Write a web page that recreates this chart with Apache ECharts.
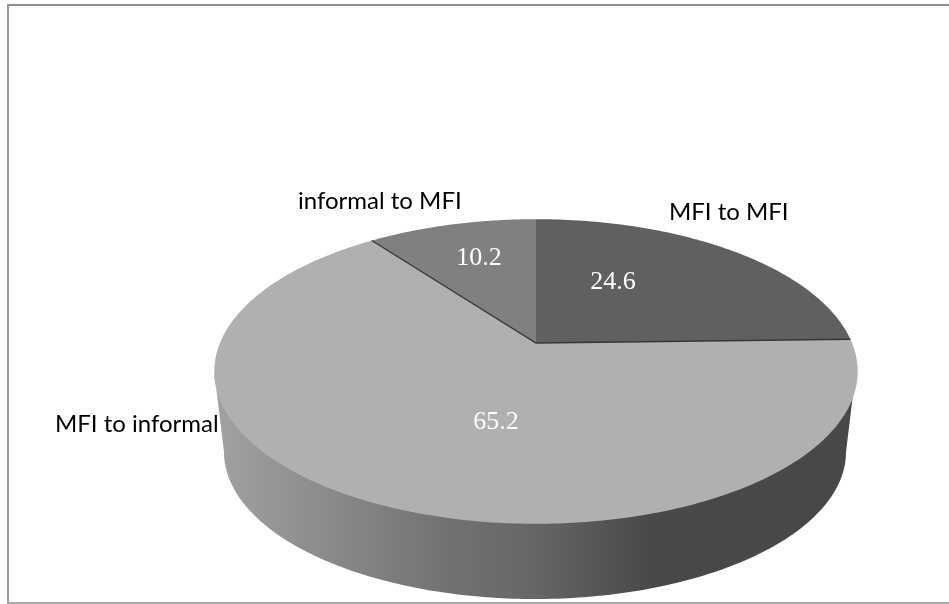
<!DOCTYPE html>
<html>
<head>
<meta charset="utf-8">
<style>html,body{margin:0;padding:0;background:#fff}#chart{width:949px;height:604px}</style>
<script src="https://cdn.jsdelivr.net/npm/echarts@6/dist/echarts.min.js"></script>
</head>
<body>
<div id="chart"></div>
<script>
// Share of loans by source and destination, clockwise from twelve o'clock
const categories = ['MFI to MFI', 'MFI to informal', 'informal to MFI'];
const shares = [24.6, 65.2, 10.2];
const sliceColors = ['#606060', '#b0b0b0', '#808080'];

// Label anchors in page pixels
const nameAnchors = [[669, 212], [55, 424], [298, 201]];
const valueAnchors = [[613, 282], [496, 422], [479, 258]];

// Tilted disc: perspective projection of a unit circle around the hub
const hub = { x: 536, y: 343, a: 316, b: 147, k: 0.187 };
// The wall's upper arc sits just inside the top face so no seam shows
const rimTop = { cx: 535, cy: 369.5, a: 321, b: 152.5 };
const rimBottom = { cx: 535, cy: 452, a: 311, b: 147 };

function project(theta) {
  const w = 1 + hub.k * Math.cos(theta);
  return [hub.x + hub.a * Math.sin(theta) / w, hub.y - hub.b * Math.cos(theta) / w];
}
function frontArc(e) {
  const pts = [];
  for (let d = 0; d <= 180; d++) {
    const t = d * Math.PI / 180;
    pts.push([e.cx + e.a * Math.cos(t), e.cy + e.b * Math.sin(t)]);
  }
  return pts;
}
const total = shares.reduce((s, v) => s + v, 0);
function sliceAngles(i) {
  const before = shares.slice(0, i).reduce((s, v) => s + v, 0);
  return [before / total * 2 * Math.PI, (before + shares[i]) / total * 2 * Math.PI];
}
function slicePoints(i) {
  const [from, to] = sliceAngles(i);
  const pts = [[hub.x, hub.y]];
  const n = Math.ceil((to - from) * 180 / Math.PI);
  for (let j = 0; j <= n; j++) pts.push(project(from + (to - from) * j / n));
  return pts;
}

const chart = echarts.init(document.getElementById('chart'), null, { renderer: 'canvas' });
chart.setOption({
  backgroundColor: '#ffffff',
  animation: false,
  graphic: [
    { type: 'rect', silent: true, shape: { x: 7, y: 4, width: 942, height: 2 }, style: { fill: '#8e8e8e' } },
    { type: 'rect', silent: true, shape: { x: 7, y: 4, width: 2, height: 600 }, style: { fill: '#9a9a9a' } },
    { type: 'rect', silent: true, shape: { x: 7, y: 602, width: 942, height: 2 }, style: { fill: '#a8a8a8' } }
  ],
  series: [
    {
      // Side wall of the disc, shaded from left to right
      type: 'custom', coordinateSystem: 'none', silent: true, data: [0], clip: false,
      renderItem: function () {
        const points = frontArc(rimTop).concat(frontArc(rimBottom).reverse());
        return {
          type: 'polygon',
          shape: { points: points },
          style: {
            fill: new echarts.graphic.LinearGradient(0, 0, 1, 0, [
              { offset: 0, color: '#a2a2a2' },
              { offset: 0.36, color: '#727272' },
              { offset: 0.5, color: '#666666' },
              { offset: 0.68, color: '#494949' },
              { offset: 1, color: '#484848' }
            ])
          }
        };
      }
    },
    {
      // Top face slices, one per category
      type: 'custom', coordinateSystem: 'none', silent: true, clip: false,
      data: shares.map((v, i) => ({ name: categories[i], value: v })),
      renderItem: function (params) {
        return {
          type: 'polygon',
          shape: { points: slicePoints(params.dataIndex) },
          style: { fill: sliceColors[params.dataIndex] }
        };
      }
    },
    {
      // Dark creases along the two edges of the largest slice
      type: 'custom', coordinateSystem: 'none', silent: true, data: [0], clip: false,
      renderItem: function () {
        const [from, to] = sliceAngles(1);
        return {
          type: 'polyline',
          shape: { points: [project(from), [hub.x, hub.y], project(to)] },
          style: { fill: 'none', stroke: '#33373a', lineWidth: 1.4 }
        };
      }
    },
    {
      // Value and name labels
      type: 'custom', coordinateSystem: 'none', silent: true, clip: false,
      data: shares.map((v, i) => ({ name: categories[i], value: v })),
      renderItem: function (params) {
        const i = params.dataIndex;
        return {
          type: 'group',
          children: [
            {
              type: 'text',
              style: {
                x: valueAnchors[i][0], y: valueAnchors[i][1],
                text: shares[i].toFixed(1),
                fill: '#ffffff',
                font: '26px "Liberation Serif"',
                align: 'center', verticalAlign: 'middle'
              }
            },
            {
              type: 'text',
              style: {
                x: nameAnchors[i][0], y: nameAnchors[i][1],
                text: categories[i],
                fill: '#000000',
                font: '24px Lato',
                align: 'left', verticalAlign: 'middle'
              }
            }
          ]
        };
      }
    }
  ]
});
</script>
</body>
</html>
